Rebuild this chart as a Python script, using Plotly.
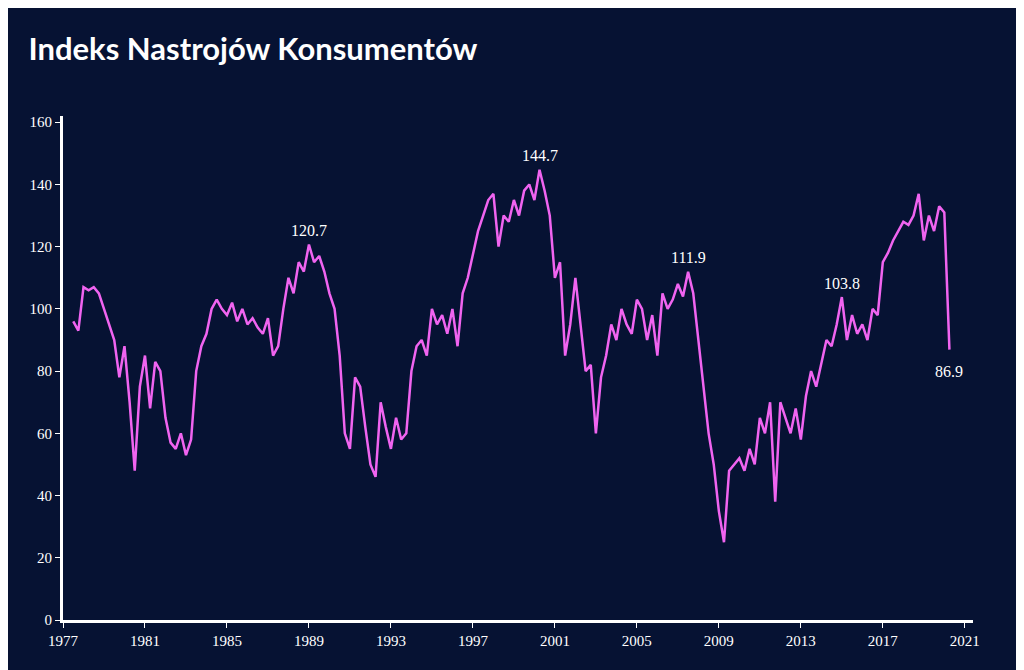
import plotly.graph_objects as go

# Quarterly readings of the index, by year
start_year = 1977.5
values = (
    [96, 93]                      # 1977 (Q3-Q4)
    + [107, 106, 107, 105]        # 1978
    + [100, 95, 90, 78]           # 1979
    + [88, 70, 48, 75]            # 1980
    + [85, 68, 83, 80]            # 1981
    + [65, 57, 55, 60]            # 1982
    + [53, 58, 80, 88]            # 1983
    + [92, 100, 103, 100]         # 1984
    + [98, 102, 96, 100]          # 1985
    + [95, 97, 94, 92]            # 1986
    + [97, 85, 88, 100]           # 1987
    + [110, 105, 115, 112]        # 1988
    + [120.7, 115, 117, 112]      # 1989
    + [105, 100, 85, 60]          # 1990
    + [55, 78, 75, 62]            # 1991
    + [50, 46, 70, 62]            # 1992
    + [55, 65, 58, 60]            # 1993
    + [80, 88, 90, 85]            # 1994
    + [100, 95, 98, 92]           # 1995
    + [100, 88, 105, 110]         # 1996
    + [118, 125, 130, 135]        # 1997
    + [137, 120, 130, 128]        # 1998
    + [135, 130, 138, 140]        # 1999
    + [135, 144.7, 138, 130]      # 2000
    + [110, 115, 85, 95]          # 2001
    + [110, 95, 80, 82]           # 2002
    + [60, 78, 85, 95]            # 2003
    + [90, 100, 95, 92]           # 2004
    + [103, 100, 90, 98]          # 2005
    + [85, 105, 100, 103]         # 2006
    + [108, 104, 111.9, 105]      # 2007
    + [90, 75, 60, 50]            # 2008
    + [35, 25, 48, 50]            # 2009
    + [52, 48, 55, 50]            # 2010
    + [65, 60, 70, 38]            # 2011
    + [70, 65, 60, 68]            # 2012
    + [58, 72, 80, 75]            # 2013
    + [82, 90, 88, 95]            # 2014
    + [103.8, 90, 98, 92]         # 2015
    + [95, 90, 100, 98]           # 2016
    + [115, 118, 122, 125]        # 2017
    + [128, 127, 130, 137]        # 2018
    + [122, 130, 125, 133]        # 2019
    + [131, 86.9]                 # 2020
)
years = [start_year + i * 0.25 for i in range(len(values))]

labelled = [120.7, 144.7, 111.9, 103.8, 86.9]
x_ticks = list(range(1977, 2022, 4))
y_ticks = list(range(0, 161, 20))

fig = go.Figure()
fig.add_trace(go.Scatter(x=years, y=values, mode="lines",
                         line=dict(color="#f064f0", width=2.5), hoverinfo="x+y"))

for v in labelled:
    i = values.index(v)
    shift = -22 if v == 86.9 else 14
    fig.add_annotation(x=years[i], y=v, text=f"{v}", showarrow=False, yshift=shift,
                       font=dict(family="Liberation Serif", size=16, color="white"))

fig.update_layout(
    width=1024, height=670,
    paper_bgcolor="#061233", plot_bgcolor="rgba(0,0,0,0)",
    margin=dict(l=55, r=59, t=108, b=58),
    showlegend=False,
    title=dict(text="<b>Indeks Nastrojów Konsumentów</b>", x=0.02, y=0.955,
               font=dict(family="Lato", size=31, color="white")),
    font=dict(family="Liberation Serif", size=15, color="white"),
    xaxis=dict(range=[1977, 2021.4], tickvals=x_ticks, showgrid=False, zeroline=False,
               showline=True, linecolor="white", linewidth=3, ticks="outside",
               tickcolor="white", ticklen=5),
    yaxis=dict(range=[0, 162], tickvals=y_ticks, showgrid=False, zeroline=False,
               showline=True, linecolor="white", linewidth=3, ticks="outside",
               tickcolor="white", ticklen=5),
)

fig.write_html("out.html")
